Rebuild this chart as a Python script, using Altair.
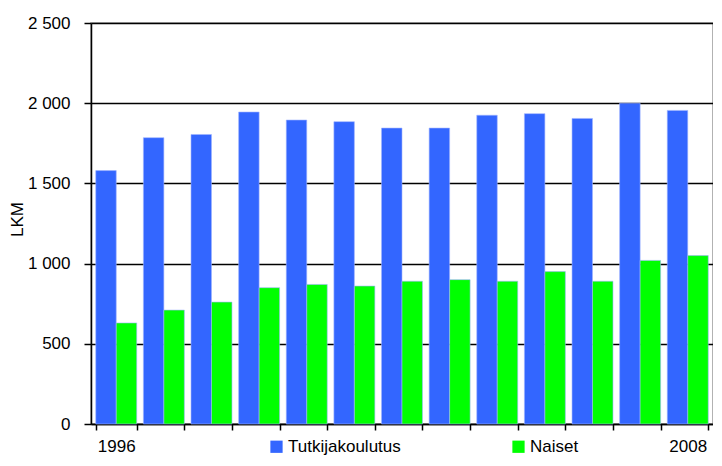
import altair as alt
import pandas as pd

years = [str(y) for y in range(1996, 2009)]
tutkijakoulutus = [1580, 1785, 1805, 1945, 1895, 1885, 1845, 1845, 1925, 1935, 1905, 2000, 1955]
naiset = [630, 710, 760, 850, 870, 860, 890, 900, 890, 950, 890, 1020, 1050]
series = ["Tutkijakoulutus", "Naiset"]
colors = ["#3366FF", "#00FF00"]

rows = []
for i, y in enumerate(years):
    rows.append({"Vuosi": y, "Sarja": series[0], "LKM": tutkijakoulutus[i]})
    rows.append({"Vuosi": y, "Sarja": series[1], "LKM": naiset[i]})
df = pd.DataFrame(rows)

FONT = "Liberation Sans"

chart = alt.Chart(df).mark_bar(stroke="#9fb4ff", strokeWidth=0.6).encode(
    x=alt.X("Vuosi:N", sort=years,
            scale=alt.Scale(paddingInner=0.14, paddingOuter=0.1),
            axis=alt.Axis(title=None, labelAngle=0, tickBand="extent",
                          labelExpr="datum.value == '1996' || datum.value == '2008' ? datum.label : ''",
                          domainColor="#000000", domainWidth=1.5,
                          tickColor="#000000", tickWidth=1.5, tickSize=6,
                          labelFont=FONT, labelFontSize=17, labelColor="#000000",
                          labelPadding=8, grid=False)),
    xOffset=alt.XOffset("Sarja:N", sort=series, scale=alt.Scale(paddingInner=0, paddingOuter=0)),
    y=alt.Y("LKM:Q", scale=alt.Scale(domain=[0, 2500], nice=False),
            axis=alt.Axis(title="LKM", values=[0, 500, 1000, 1500, 2000, 2500],
                          labelExpr="replace(format(datum.value, ','), ',', ' ')",
                          gridColor="#000000", gridWidth=1.5, gridOpacity=1,
                          domainColor="#000000", domainWidth=1.5,
                          tickColor="#000000", tickWidth=1.5, tickSize=7,
                          labelFont=FONT, labelFontSize=17, labelColor="#000000",
                          labelPadding=14,
                          titleFont=FONT, titleFontSize=17, titleFontWeight="normal",
                          titleColor="#000000", titleX=-65, titleY=196,
                          titleBaseline="bottom")),
    color=alt.Color("Sarja:N", sort=series,
                    scale=alt.Scale(domain=series, range=colors),
                    legend=alt.Legend(title=None, orient="none", direction="horizontal",
                                      legendX=177, legendY=415,
                                      symbolType="square", symbolSize=150,
                                      symbolStrokeWidth=0, symbolOffset=0,
                                      labelFont=FONT, labelFontSize=17, labelColor="#000000",
                                      labelOffset=3, columnPadding=109)),
).properties(
    width=622, height=401,
    autosize=alt.AutoSizeParams(type="none"),
    padding={"left": 83, "top": 15, "right": 0, "bottom": 34},
).configure_view(stroke="#999999", strokeWidth=1.5)

chart.save("out.html", embed_options={"renderer": "svg", "actions": False})
